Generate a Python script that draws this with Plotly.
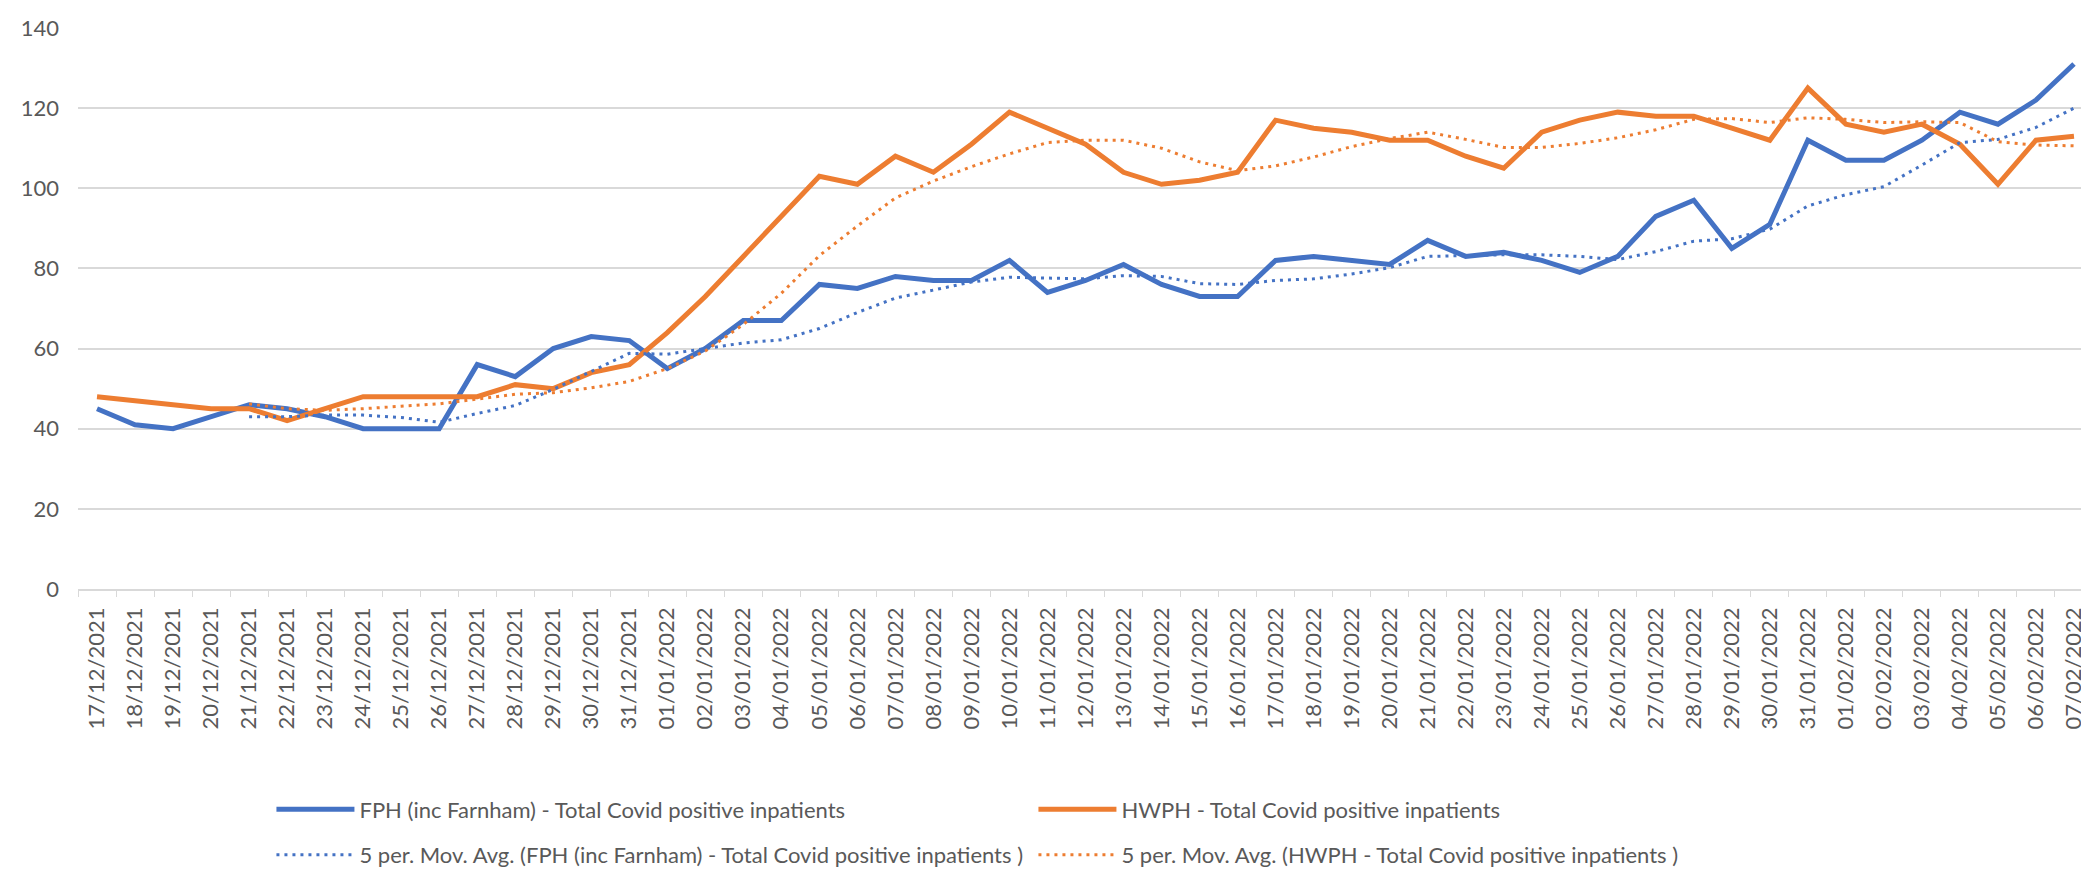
import plotly.graph_objects as go

dates = [
    "17/12/2021", "18/12/2021", "19/12/2021", "20/12/2021", "21/12/2021", "22/12/2021",
    "23/12/2021", "24/12/2021", "25/12/2021", "26/12/2021", "27/12/2021", "28/12/2021",
    "29/12/2021", "30/12/2021", "31/12/2021", "01/01/2022", "02/01/2022", "03/01/2022",
    "04/01/2022", "05/01/2022", "06/01/2022", "07/01/2022", "08/01/2022", "09/01/2022",
    "10/01/2022", "11/01/2022", "12/01/2022", "13/01/2022", "14/01/2022", "15/01/2022",
    "16/01/2022", "17/01/2022", "18/01/2022", "19/01/2022", "20/01/2022", "21/01/2022",
    "22/01/2022", "23/01/2022", "24/01/2022", "25/01/2022", "26/01/2022", "27/01/2022",
    "28/01/2022", "29/01/2022", "30/01/2022", "31/01/2022", "01/02/2022", "02/02/2022",
    "03/02/2022", "04/02/2022", "05/02/2022", "06/02/2022", "07/02/2022",
]

fph = [45, 41, 40, 43, 46, 45, 43, 40, 40, 40, 56, 53, 60, 63, 62, 55, 60, 67, 67, 76,
       75, 78, 77, 77, 82, 74, 77, 81, 76, 73, 73, 82, 83, 82, 81, 87, 83, 84, 82, 79,
       83, 93, 97, 85, 91, 112, 107, 107, 112, 119, 116, 122, 131]

hwph = [48, 47, 46, 45, 45, 42, 45, 48, 48, 48, 48, 51, 50, 54, 56, 64, 73, 83, 93, 103,
        101, 108, 104, 111, 119, 115, 111, 104, 101, 102, 104, 117, 115, 114, 112, 112, 108, 105, 114, 117,
        119, 118, 118, 115, 112, 125, 116, 114, 116, 111, 101, 112, 113]

# 5-period moving averages (start at 21/12/2021)
ma_dates = dates[4:]
fph_ma = [43.0, 43.0, 43.4, 43.4, 42.8, 41.6, 43.8, 45.8, 49.8, 54.4, 58.8, 58.6, 60.0, 61.4,
          62.2, 65.0, 69.0, 72.6, 74.6, 76.6, 77.8, 77.6, 77.4, 78.2, 78.0, 76.2, 76.0, 77.0,
          77.4, 78.6, 80.2, 83.0, 83.2, 83.4, 83.4, 83.0, 82.2, 84.2, 86.8, 87.4, 89.8, 95.6,
          98.4, 100.4, 105.8, 111.4, 112.2, 115.2, 120.0]
hwph_ma = [46.2, 45.0, 44.6, 45.0, 45.6, 46.2, 47.4, 48.6, 49.0, 50.2, 51.8, 55.0, 59.4, 66.0,
           73.8, 83.2, 90.6, 97.6, 101.8, 105.4, 108.6, 111.4, 112.0, 112.0, 110.0, 106.6, 104.4, 105.6,
           107.8, 110.4, 112.4, 114.0, 112.2, 110.2, 110.2, 111.2, 112.6, 114.6, 117.2, 117.4, 116.4, 117.6,
           117.2, 116.4, 116.6, 116.4, 111.6, 110.8, 110.6]

name_fph = "FPH (inc Farnham) - Total Covid positive inpatients"
name_hwph = "HWPH - Total Covid positive inpatients"
name_fph_ma = "5 per. Mov. Avg. (FPH (inc Farnham) - Total Covid positive inpatients )"
name_hwph_ma = "5 per. Mov. Avg. (HWPH - Total Covid positive inpatients )"

BLUE = "#4472C4"
ORANGE = "#ED7D31"
FONT = "Lato, 'Noto Sans', sans-serif"

fig = go.Figure()
fig.add_trace(go.Scatter(x=dates, y=fph, mode="lines", name=name_fph,
                         line=dict(color=BLUE, width=5), legend="legend"))
fig.add_trace(go.Scatter(x=dates, y=hwph, mode="lines", name=name_hwph,
                         line=dict(color=ORANGE, width=5), legend="legend"))
fig.add_trace(go.Scatter(x=ma_dates, y=fph_ma, mode="lines", name=name_fph_ma,
                         line=dict(color=BLUE, width=3, dash="3px,5px"), legend="legend2"))
fig.add_trace(go.Scatter(x=ma_dates, y=hwph_ma, mode="lines", name=name_hwph_ma,
                         line=dict(color=ORANGE, width=3, dash="3px,5px"), legend="legend2"))

legend_common = dict(
    orientation="h", xanchor="left", yanchor="middle",
    entrywidth=669, entrywidthmode="pixels", itemwidth=78,
    font=dict(family=FONT, size=22, color="#595959"),
    bgcolor="rgba(0,0,0,0)", traceorder="normal",
)

fig.update_layout(
    width=2089, height=872,
    margin=dict(l=70, r=4, t=20, b=282),
    paper_bgcolor="white", plot_bgcolor="white",
    font=dict(family=FONT, size=22, color="#595959"),
    showlegend=True,
    legend=dict(x=0.096, y=-0.393, **legend_common),
    legend2=dict(x=0.096, y=-0.474, **legend_common),
    xaxis=dict(
        type="category", categoryorder="array", categoryarray=dates,
        tickangle=-90, tickson="boundaries", ticks="outside", ticklen=6,
        tickcolor="#d9d9d9", showline=True, linecolor="#d9d9d9", linewidth=1.5,
        showgrid=False, ticklabelstandoff=8,
        tickfont=dict(family=FONT, size=22, color="#595959"),
        range=[-0.5, len(dates) - 0.5],
    ),
    yaxis=dict(
        range=[0, 140], dtick=20, showgrid=True, gridcolor="#d9d9d9", gridwidth=1.5,
        zeroline=False, showline=False, ticks="", ticklabelstandoff=18,
        tickfont=dict(family=FONT, size=22, color="#595959"),
    ),
)

fig.write_html("out.html")
